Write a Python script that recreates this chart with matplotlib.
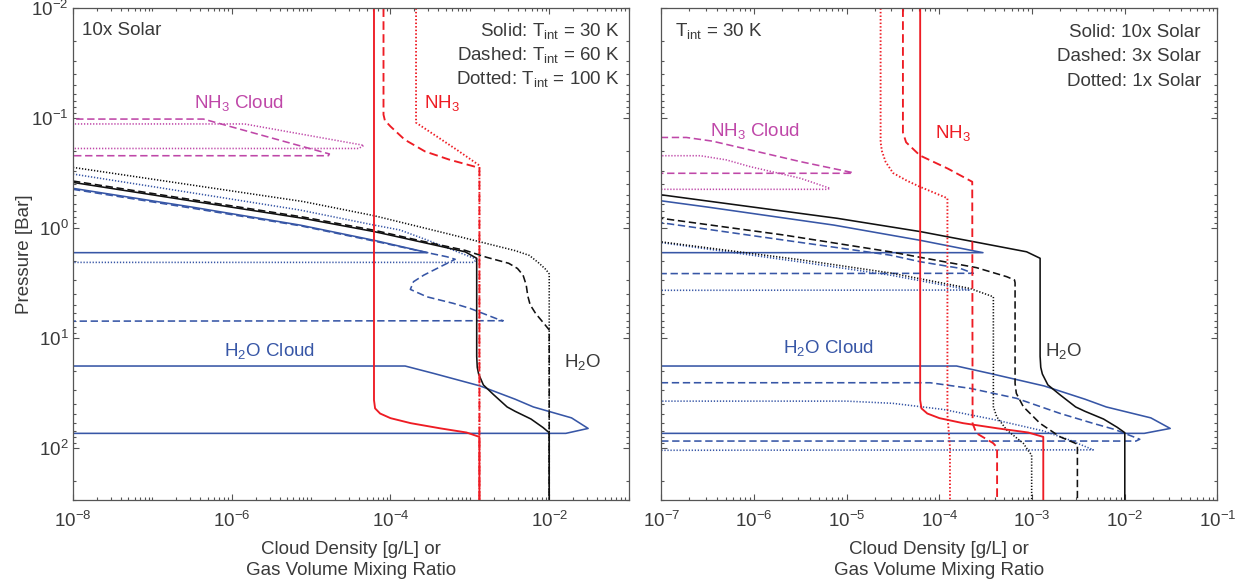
import matplotlib

matplotlib.use("Agg")
import matplotlib.pyplot as plt
import numpy as np
from matplotlib.ticker import FixedLocator, LogLocator, NullFormatter

plt.rcParams["font.family"] = ["Liberation Sans", "DejaVu Sans"]
plt.rcParams["mathtext.fontset"] = "custom"
plt.rcParams["mathtext.rm"] = "Liberation Sans"
plt.rcParams["mathtext.it"] = "Liberation Sans"
plt.rcParams["mathtext.default"] = "regular"

OFF = 1e-12  # cloud density drops to zero (off the left edge of the axis)
NAN = np.nan

# ---- 10x solar, T_int = 30 K (solid in both panels) ----
nh3_solid_x = [6.2e-5, 6.2e-5, 6.4e-5, 7.4e-5, 1.0e-4, 1.8e-4, 4.3e-4, 9.1e-4, 1.32e-3, 1.32e-3]
nh3_solid_p = [0.01, 37, 44, 49, 54, 60, 67, 73, 80, 300]

h2o_solid_x = [1e-8, 3.16e-7, 7.94e-6, 6.22e-5, 2.51e-4, 8.73e-4, 1.22e-3, 1.22e-3, 1.24e-3,
               1.29e-3, 1.48e-3, 2.0e-3, 2.95e-3, 3.72e-3, 5.89e-3, 8.32e-3, 1.0e-2, 1.0e-2]
h2o_solid_p = [0.385, 0.569, 0.818, 1.08, 1.35, 1.65, 1.89, 14.8, 18.6,
               21.4, 26.9, 33.1, 42.7, 46.8, 55.0, 65.6, 73.3, 300]

h2o_cloud_solid_x = [1e-8, 3.16e-7, 7.24e-6, 6.31e-5, 2.95e-4, OFF, NAN,
                     OFF, 1.53e-4, 3.47e-4, 1.35e-3, 3.72e-3, 6.31e-3, 1.91e-2, 3.09e-2, 1.62e-2, OFF]
h2o_cloud_solid_p = [0.436, 0.646, 0.942, 1.30, 1.68, 1.68, NAN,
                     18.1, 18.1, 21.1, 27.5, 36.3, 42.7, 53.7, 67.0, 74.3, 74.3]

# ---- left panel: 10x solar, T_int = 60 K (dashed) ----
nh3_t60_x = [8.17e-5, 8.17e-5, 8.5e-5, 1.0e-4, 1.51e-4, 2.72e-4, 5.53e-4, 1.12e-3, 1.32e-3, 1.32e-3]
nh3_t60_p = [0.01, 0.093, 0.105, 0.119, 0.157, 0.201, 0.239, 0.275, 0.285, 300]

h2o_t60_x = [1e-8, 3.16e-7, 7.94e-6, 6.22e-5, 2.51e-4, 8.71e-4, 1.62e-3, 3.09e-3, 3.98e-3,
             4.68e-3, 5.13e-3, 5.37e-3, 5.75e-3, 6.76e-3, 8.91e-3, 1.0e-2, 1.0e-2]
h2o_t60_p = [0.374, 0.553, 0.796, 1.05, 1.32, 1.60, 1.85, 2.10, 2.34,
             2.69, 3.31, 4.17, 5.01, 6.03, 7.66, 8.5, 300]

h2o_cloud_t60_x = [1e-8, 3.16e-7, 7.24e-6, 6.31e-5, 3.02e-4, 5.13e-4, 6.53e-4, 2.63e-4, 1.95e-4,
                   1.78e-4, 2.88e-4, 6.17e-4, 1.0e-3, 2.40e-3, 2.63e-3, OFF]
h2o_cloud_t60_p = [0.445, 0.661, 0.955, 1.32, 1.69, 1.83, 1.93, 2.69, 3.09,
                   3.63, 4.24, 4.86, 5.40, 6.90, 7.00, 7.11]

nh3_cloud_t60_x = [OFF, 4.4e-7, 1.7e-5, 1.65e-5, OFF]
nh3_cloud_t60_p = [0.102, 0.102, 0.212, 0.220, 0.220]

# ---- left panel: 10x solar, T_int = 100 K (dotted) ----
nh3_t100_x = [2.1e-4, 2.1e-4, 6.9e-4, 1.32e-3, 1.32e-3]
nh3_t100_p = [0.01, 0.11, 0.195, 0.27, 300]

h2o_t100_x = [1e-8, 3.16e-7, 7.94e-6, 6.22e-5, 5.01e-4, 3.72e-3, 5.62e-3, 7.41e-3, 9.12e-3, 1.0e-2, 1.0e-2]
h2o_t100_p = [0.281, 0.407, 0.575, 0.774, 1.12, 1.61, 1.78, 2.09, 2.40, 2.63, 300]

h2o_cloud_t100_x = [1e-8, 3.16e-7, 7.24e-6, 6.31e-5, 1.32e-4, 3.16e-4, 1.22e-3, 1.12e-3, OFF]
h2o_cloud_t100_p = [0.323, 0.479, 0.687, 0.944, 1.045, 1.32, 1.93, 2.06, 2.06]

nh3_cloud_t100_x = [OFF, 1.45e-6, 4.62e-5, 3.98e-5, OFF]
nh3_cloud_t100_p = [0.113, 0.113, 0.177, 0.189, 0.189]

# ---- right panel: 3x solar, T_int = 30 K (dashed) ----
nh3_3x_x = [4.04e-5, 4.04e-5, 4.37e-5, 6.17e-5, 1.23e-4, 2.26e-4, 2.28e-4, 2.51e-4, 3.80e-4, 4.19e-4, 4.19e-4]
nh3_3x_p = [0.01, 0.135, 0.166, 0.219, 0.288, 0.380, 60.3, 74.1, 91.2, 100, 300]

h2o_3x_x = [1e-8, 1e-7, 2.09e-6, 2.95e-5, 2.51e-4, 5.32e-4, 6.46e-4, 6.55e-4, 6.55e-4,
            6.76e-4, 8.04e-4, 1.22e-3, 2.0e-3, 2.82e-3, 3.08e-3, 3.08e-3]
h2o_3x_p = [0.63, 0.818, 1.16, 1.65, 2.30, 2.78, 2.98, 3.16, 26.1,
            32.1, 42.5, 60.3, 79.8, 90.2, 93.3, 300]

h2o_cloud_3x_x = [1e-8, 1e-7, 2.09e-6, 2.95e-5, 6.17e-5, 1.66e-4, 2.32e-4, OFF, NAN,
                  OFF, 7.94e-5, 2.14e-4, 6.76e-4, 2.0e-3, 4.57e-3, 7.76e-3, 1.45e-2, 1.32e-2, OFF]
h2o_cloud_3x_p = [0.69, 0.897, 1.29, 1.77, 2.03, 2.33, 2.59, 2.63, NAN,
                  25.7, 25.7, 28.9, 35.6, 48.9, 60.3, 68.4, 84.1, 87.3, 87.3]

nh3_cloud_3x_x = [OFF, 1.86e-7, 3.55e-7, 9.12e-7, 3.16e-6, 1.17e-5, 1.10e-5, OFF]
nh3_cloud_3x_p = [0.150, 0.150, 0.162, 0.195, 0.249, 0.314, 0.318, 0.318]

# ---- right panel: 1x solar, T_int = 30 K (dotted) ----
nh3_1x_x = [2.32e-5, 2.32e-5, 2.40e-5, 2.63e-5, 3.16e-5, 4.47e-5, 6.17e-5, 1.22e-4, 1.22e-4, 1.30e-4, 1.30e-4]
nh3_1x_p = [0.01, 0.166, 0.2, 0.251, 0.316, 0.372, 0.422, 0.537, 50.1, 100, 300]

h2o_1x_x = [1e-8, 1e-7, 3.16e-6, 2.95e-5, 2.14e-4, 3.82e-4, 3.82e-4, 4.15e-4, 5.32e-4, 8.04e-4, 9.33e-4, 9.89e-4, 9.89e-4]
h2o_1x_p = [1.0, 1.34, 1.95, 2.57, 3.56, 4.24, 42.5, 52.4, 69.2, 91.6, 110, 117, 300]

h2o_cloud_1x_x = [1e-8, 1e-7, 3.16e-6, 2.95e-5, 2.14e-4, OFF, NAN,
                  OFF, 1e-5, 3.16e-5, 1.10e-4, 3.82e-4, 1.32e-3, 2.51e-3, 4.57e-3, OFF]
h2o_cloud_1x_p = [1.02, 1.36, 2.04, 2.69, 3.68, 3.73, NAN,
                  37.8, 37.8, 39.6, 45.0, 55.5, 70.6, 85.1, 105, 107]

nh3_cloud_1x_x = [OFF, 2.63e-7, 5.01e-7, 9.12e-7, 3.16e-6, 6.61e-6, 6.17e-6, OFF]
nh3_cloud_1x_p = [0.220, 0.220, 0.240, 0.277, 0.353, 0.436, 0.445, 0.445]

RED = "#ee1c24"
BLACK = "#111111"
BLUE = "#3756a6"
MAGENTA = "#bf47a8"
TEXT = "#3a3a3a"
SPINE = "#555555"
STYLES = {"solid": "-", "dashed": (0, (4.6, 2.3)), "dotted": (0, (0.8, 1.1))}
FS = 13.5


def draw(ax, x, p, color, style, lw=1.15):
    ax.plot(x, p, color=color, linestyle=STYLES[style], linewidth=lw, clip_on=True)


def setup_axes(ax, xmin, majors, show_ylabels):
    ax.set_xscale("log")
    ax.set_yscale("log")
    ax.set_xlim(xmin, 1e-1)
    ax.set_ylim(300, 1e-2)
    ax.xaxis.set_major_locator(FixedLocator(majors))
    ax.xaxis.set_minor_locator(LogLocator(base=10, subs=np.arange(1, 10), numticks=100))
    ax.xaxis.set_minor_formatter(NullFormatter())
    ax.yaxis.set_major_locator(FixedLocator([1e-2, 1e-1, 1e0, 1e1, 1e2]))
    ax.yaxis.set_minor_locator(LogLocator(base=10, subs=np.arange(2, 10), numticks=100))
    ax.yaxis.set_minor_formatter(NullFormatter())
    ax.tick_params(which="both", direction="in", top=True, right=True, color=SPINE,
                   labelcolor=TEXT, labelsize=FS, width=0.8)
    ax.tick_params(which="major", length=4.5)
    ax.tick_params(which="minor", length=2.5)
    ax.tick_params(axis="x", pad=8)
    ax.tick_params(axis="y", pad=3)
    if not show_ylabels:
        ax.tick_params(axis="y", labelleft=False)
    for s in ax.spines.values():
        s.set_color(SPINE)
        s.set_linewidth(0.9)
    ax.set_xlabel("Cloud Density [g/L] or\nGas Volume Mixing Ratio", fontsize=FS,
                  color=TEXT, labelpad=7, linespacing=1.32)


fig = plt.figure(figsize=(12.45, 5.86), dpi=100)
ax1 = fig.add_axes([0.0586, 0.1469, 0.4463, 0.8389])
ax2 = fig.add_axes([0.5312, 0.1469, 0.4467, 0.8389])

setup_axes(ax1, 1e-8, [1e-8, 1e-6, 1e-4, 1e-2], True)
setup_axes(ax2, 1e-7, [1e-7, 1e-6, 1e-5, 1e-4, 1e-3, 1e-2, 1e-1], False)
ax1.set_ylabel("Pressure [Bar]", fontsize=FS, color=TEXT, labelpad=-1)

# left panel
draw(ax1, nh3_cloud_t60_x, nh3_cloud_t60_p, MAGENTA, "dashed")
draw(ax1, nh3_cloud_t100_x, nh3_cloud_t100_p, MAGENTA, "dotted")
draw(ax1, h2o_cloud_solid_x, h2o_cloud_solid_p, BLUE, "solid")
draw(ax1, h2o_cloud_t60_x, h2o_cloud_t60_p, BLUE, "dashed")
draw(ax1, h2o_cloud_t100_x, h2o_cloud_t100_p, BLUE, "dotted")
draw(ax1, h2o_solid_x, h2o_solid_p, BLACK, "solid")
draw(ax1, h2o_t60_x, h2o_t60_p, BLACK, "dashed")
draw(ax1, h2o_t100_x, h2o_t100_p, BLACK, "dotted")
draw(ax1, nh3_solid_x, nh3_solid_p, RED, "solid", lw=1.35)
draw(ax1, nh3_t60_x, nh3_t60_p, RED, "dashed", lw=1.35)
draw(ax1, nh3_t100_x, nh3_t100_p, RED, "dotted", lw=1.35)

# right panel
draw(ax2, nh3_cloud_3x_x, nh3_cloud_3x_p, MAGENTA, "dashed")
draw(ax2, nh3_cloud_1x_x, nh3_cloud_1x_p, MAGENTA, "dotted")
draw(ax2, h2o_cloud_solid_x, h2o_cloud_solid_p, BLUE, "solid")
draw(ax2, h2o_cloud_3x_x, h2o_cloud_3x_p, BLUE, "dashed")
draw(ax2, h2o_cloud_1x_x, h2o_cloud_1x_p, BLUE, "dotted")
draw(ax2, h2o_solid_x, h2o_solid_p, BLACK, "solid")
draw(ax2, h2o_3x_x, h2o_3x_p, BLACK, "dashed")
draw(ax2, h2o_1x_x, h2o_1x_p, BLACK, "dotted")
draw(ax2, nh3_solid_x, nh3_solid_p, RED, "solid", lw=1.35)
draw(ax2, nh3_3x_x, nh3_3x_p, RED, "dashed", lw=1.35)
draw(ax2, nh3_1x_x, nh3_1x_p, RED, "dotted", lw=1.35)

# annotations
kw = dict(fontsize=FS, va="baseline")
ax1.text(0.0155, 0.945, "10x Solar", transform=ax1.transAxes, color=TEXT, ha="left", **kw)
for y, s in zip([0.9437, 0.8948, 0.846],
                ["Solid: T$_{int}$ = 30 K", "Dashed: T$_{int}$ = 60 K", "Dotted: T$_{int}$ = 100 K"]):
    ax1.text(0.9836, y, s, transform=ax1.transAxes, color=TEXT, ha="right", **kw)
ax1.text(0.217, 0.7966, "NH$_3$ Cloud", transform=ax1.transAxes, color=MAGENTA, ha="left", **kw)
ax1.text(0.632, 0.7966, "NH$_3$", transform=ax1.transAxes, color=RED, ha="left", **kw)
ax1.text(0.272, 0.2927, "H$_2$O Cloud", transform=ax1.transAxes, color=BLUE, ha="left", **kw)
ax1.text(0.8846, 0.2697, "H$_2$O", transform=ax1.transAxes, color=TEXT, ha="left", **kw)

ax2.text(0.025, 0.9437, "T$_{int}$ = 30 K", transform=ax2.transAxes, color=TEXT, ha="left", **kw)
for y, s in zip([0.942, 0.893, 0.842], ["Solid: 10x Solar", "Dashed: 3x Solar", "Dotted: 1x Solar"]):
    ax2.text(0.970, y, s, transform=ax2.transAxes, color=TEXT, ha="right", **kw)
ax2.text(0.0873, 0.740, "NH$_3$ Cloud", transform=ax2.transAxes, color=MAGENTA, ha="left", **kw)
ax2.text(0.4928, 0.7355, "NH$_3$", transform=ax2.transAxes, color=RED, ha="left", **kw)
ax2.text(0.218, 0.2982, "H$_2$O Cloud", transform=ax2.transAxes, color=BLUE, ha="left", **kw)
ax2.text(0.689, 0.2927, "H$_2$O", transform=ax2.transAxes, color=TEXT, ha="left", **kw)

fig.savefig("out.png", dpi=100)
